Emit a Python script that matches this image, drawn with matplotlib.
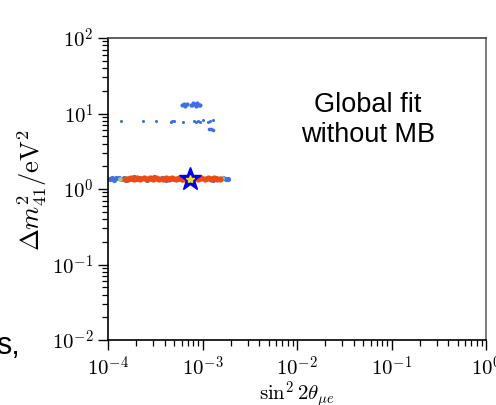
import matplotlib
matplotlib.use("Agg")
import matplotlib.pyplot as plt
from matplotlib.ticker import FuncFormatter
import numpy as np

plt.rcParams['mathtext.fontset'] = 'cm'
plt.rcParams['font.family'] = ['DejaVu Sans']

# --- data ---
# upper island (blue dots) around 8 eV^2
upper_x = [1.36e-4, 2.33e-4, 3.22e-4, 4.6e-4, 4.8e-4, 5.0e-4, 6.2e-4, 8.2e-4, 8.6e-4, 9.0e-4, 9.5e-4, 1.01e-3, 1.15e-3, 1.2e-3, 1.28e-3]
upper_y = [7.9, 7.9, 8.0, 7.8, 8.0, 7.9, 7.8, 8.0, 7.8, 7.9, 7.8, 8.1, 7.7, 7.9, 8.1]
# island near 13 eV^2
top_x = [6.1e-4, 6.4e-4, 6.8e-4, 7.6e-4, 8.0e-4, 8.3e-4, 8.7e-4, 9.1e-4, 9.4e-4, 7.8e-4, 8.5e-4, 6.6e-4]
top_y = [12.8, 13.4, 13.2, 13.0, 13.9, 13.3, 13.6, 12.9, 13.1, 12.8, 12.7, 12.7]
# small island near 6.2 eV^2
low_x = [1.18e-3, 1.24e-3, 1.3e-3]
low_y = [6.2, 6.3, 6.1]

# main band around 1.35 eV^2 (blue = widest region)
band_blue_x = [1.05e-4, 1.1e-4, 1.16e-4, 1.22e-4, 1.3e-4, 1.38e-4, 1.47e-4, 1.56e-4, 1.66e-4,
               1.78e-4, 1.9e-4, 2.05e-4, 2.2e-4, 2.4e-4, 2.6e-4, 2.85e-4, 3.1e-4, 3.4e-4,
               3.7e-4, 4.1e-4, 4.5e-4, 5.0e-4, 5.5e-4, 6.0e-4, 6.6e-4, 7.3e-4, 8.0e-4,
               8.8e-4, 9.7e-4, 1.07e-3, 1.17e-3, 1.28e-3, 1.4e-3, 1.52e-3, 1.65e-3, 1.78e-3, 1.88e-3]
band_blue_y = [1.36, 1.40, 1.33, 1.38, 1.42, 1.35, 1.39, 1.33, 1.41, 1.36, 1.43, 1.34, 1.38,
               1.41, 1.33, 1.39, 1.43, 1.35, 1.40, 1.33, 1.42, 1.37, 1.34, 1.41, 1.36, 1.43,
               1.33, 1.39, 1.42, 1.35, 1.38, 1.33, 1.41, 1.36, 1.39, 1.37, 1.36]
band_green_x = [1.35e-4, 1.6e-4, 1.9e-4, 2.3e-4, 2.7e-4, 3.2e-4, 3.8e-4, 4.4e-4, 5.2e-4,
                6.0e-4, 7.0e-4, 8.2e-4, 9.5e-4, 1.1e-3, 1.27e-3, 1.45e-3, 1.6e-3]
band_green_y = [1.37, 1.40, 1.34, 1.41, 1.36, 1.39, 1.34, 1.41, 1.37, 1.33, 1.40, 1.35,
                1.41, 1.36, 1.39, 1.35, 1.38]
band_red_x = [1.5e-4, 1.62e-4, 1.75e-4, 1.9e-4, 2.05e-4, 2.2e-4, 2.4e-4, 2.6e-4, 2.8e-4,
              3.0e-4, 3.25e-4, 3.5e-4, 3.8e-4, 4.1e-4, 4.45e-4, 4.8e-4, 5.2e-4, 5.6e-4,
              6.1e-4, 6.6e-4, 7.1e-4, 7.7e-4, 8.3e-4, 9.0e-4, 9.7e-4, 1.05e-3, 1.13e-3,
              1.22e-3, 1.32e-3, 1.42e-3, 1.52e-3]
band_red_y = [1.37, 1.35, 1.39, 1.36, 1.38, 1.35, 1.40, 1.36, 1.38, 1.34, 1.39, 1.37, 1.35,
              1.40, 1.36, 1.38, 1.34, 1.39, 1.37, 1.35, 1.40, 1.36, 1.38, 1.35, 1.39, 1.36,
              1.38, 1.35, 1.39, 1.37, 1.36]
best_x = [7.3e-4]
best_y = [1.35]

x_ticks = [1e-4, 1e-3, 1e-2, 1e-1, 1e0]
y_ticks = [1e-2, 1e-1, 1e0, 1e1, 1e2]

fig = plt.figure(figsize=(4.96, 4.05), dpi=100)
ax = fig.add_axes([108/496, 1-340/405, (486-108)/496, (340-38)/405])
ax.set_xscale('log')
ax.set_yscale('log')
ax.set_xlim(1e-4, 1e0)
ax.set_ylim(1e-2, 1e2)

blue = '#3f6fe0'
ax.scatter(upper_x, upper_y, s=5, c=blue, lw=0)
ax.scatter(top_x, top_y, s=9, c=blue, lw=0)
ax.scatter(low_x, low_y, s=7, c=blue, lw=0)
ax.scatter(band_blue_x, band_blue_y, s=14, c=blue, lw=0)
ax.scatter(band_green_x, band_green_y, s=12, c='#9ad27a', lw=0)
ax.scatter(band_red_x, band_red_y, s=20, c='#f04a10', lw=0)
ax.plot(best_x, best_y, marker='*', ms=17, color='#0000f0', mec='#0000f0', ls='none')
ax.plot(best_x, best_y, marker='*', ms=6, color='#f5e020', mec='#f5e020', ls='none')

ax.set_xticks(x_ticks)
ax.set_yticks(y_ticks)
fmt = FuncFormatter(lambda v, p: r'$10^{%d}$' % int(round(np.log10(v))))
ax.xaxis.set_major_formatter(fmt)
ax.yaxis.set_major_formatter(fmt)
ax.tick_params(which='major', direction='out', length=7, width=1, labelsize=15, color='black')
ax.tick_params(which='minor', direction='out', length=4, width=0.9)
ax.tick_params(axis='x', which='major', pad=4)
for s in ax.spines.values():
    s.set_linewidth(1.2)
ax.spines['top'].set_color('#444444')
ax.spines['right'].set_color('#666666')

ax.set_xlabel(r'$\sin^2 2\theta_{\mu e}$', fontsize=15)
ax.xaxis.set_label_coords(0.5, (340-379)/302)
ax.set_ylabel(r'$\Delta m^2_{41}/\mathrm{eV}^2$', fontsize=19)
ax.yaxis.set_label_coords((49-108)/378, (340-190)/302)

ax.text(0.688, 0.728, 'Global fit\nwithout MB', transform=ax.transAxes, ha='center', va='center',
        fontsize=19.5, family='Liberation Sans', linespacing=1.2)

fig.text(-0.008, 1-346/405, 's,', fontsize=22, family='Liberation Sans', ha='left', va='center')

fig.savefig('out.png', dpi=100)
